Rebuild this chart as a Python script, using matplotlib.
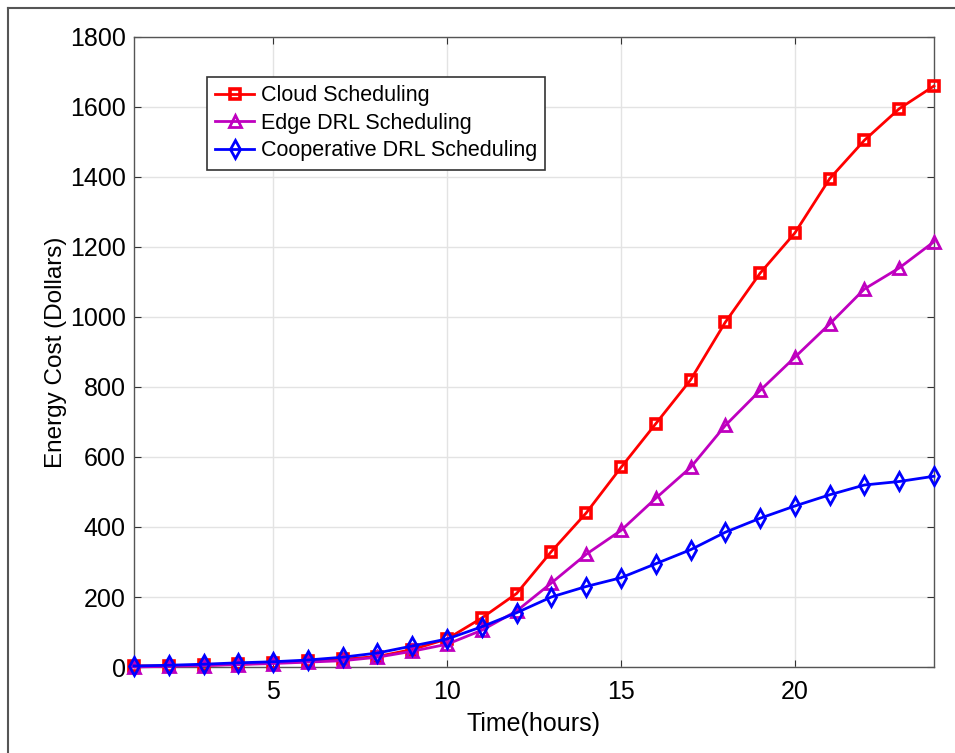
import matplotlib
matplotlib.use("Agg")
import matplotlib.pyplot as plt
from matplotlib.lines import Line2D

plt.rcParams['font.family'] = ['Liberation Sans', 'DejaVu Sans']

# hours 1..24
hours = list(range(1, 25))

cloud = [3, 3, 5, 8, 12, 16, 22, 30, 50, 80, 140, 210, 330, 440, 570, 695,
         820, 985, 1125, 1240, 1395, 1505, 1595, 1660]
edge_drl = [0, 2, 4, 7, 10, 14, 18, 28, 45, 65, 105, 160, 240, 322, 390, 482,
            570, 690, 790, 885, 980, 1080, 1140, 1215]
coop_drl = [3, 5, 8, 12, 15, 20, 28, 40, 60, 80, 115, 155, 200, 230, 255, 295,
            335, 385, 425, 460, 492, 520, 530, 545]

labels = ['Cloud Scheduling', 'Edge DRL Scheduling', 'Cooperative DRL Scheduling']

fig = plt.figure(figsize=(9.55, 7.53), dpi=100)
ax = fig.add_axes([0.1403, 0.1142, 0.8377, 0.8367])

ax.plot(hours, cloud, color='red', lw=2, marker='s', ms=7, mfc='none', mew=2.6,
        label=labels[0], clip_on=False, zorder=3)
ax.plot(hours, edge_drl, color='#bf00bf', lw=2, marker='^', ms=9, mfc='none', mew=2,
        label=labels[1], clip_on=False, zorder=3)
ax.plot(hours, coop_drl, color='blue', lw=2, marker='d', ms=9, mfc='none', mew=2,
        label=labels[2], clip_on=False, zorder=3)

ax.set_xlim(1, 24)
ax.set_ylim(0, 1800)
ax.set_xticks([5, 10, 15, 20])
ax.set_yticks(range(0, 1801, 200))
ax.grid(True, color='#e3e3e3', lw=1)
ax.set_axisbelow(True)
ax.tick_params(direction='in', top=True, right=True, labelsize=18, length=5, color='#333333')
ax.tick_params(axis='x', pad=9)
ax.tick_params(axis='y', pad=6)
for s in ax.spines.values():
    s.set_color('#555555')
    s.set_linewidth(1)

ax.set_xlabel('Time(hours)', fontsize=18, labelpad=6)
ax.set_ylabel('Energy Cost (Dollars)', fontsize=17.5, labelpad=2)

leg = ax.legend(loc='upper left', bbox_to_anchor=(0.091, 0.937), fontsize=15.5,
                fancybox=False, framealpha=1, edgecolor='#333333',
                borderpad=0.4, labelspacing=0.3, handlelength=1.8, handletextpad=0.3,
                borderaxespad=0)
leg.get_frame().set_linewidth(1.2)

# outer frame of the original figure
fig.add_artist(Line2D([8 / 955, 1], [1 - 8 / 753, 1 - 8 / 753], color='#555555', lw=1.5))
fig.add_artist(Line2D([8 / 955, 8 / 955], [0, 1 - 8 / 753], color='#555555', lw=1.5))

fig.savefig('out.png', dpi=100)
